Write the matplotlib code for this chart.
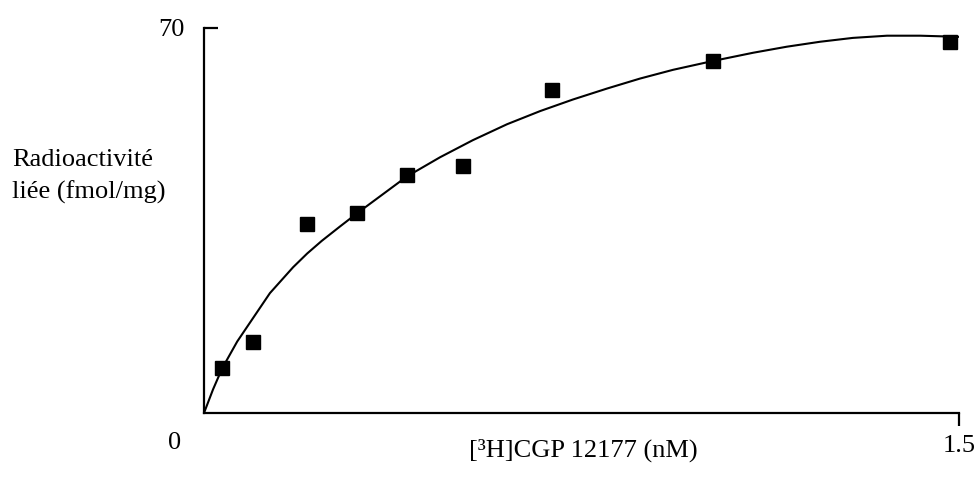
import matplotlib.pyplot as plt

plt.rcParams['font.family'] = ['Liberation Serif', 'DejaVu Serif']

# measured points
conc = [0.036, 0.097, 0.205, 0.304, 0.403, 0.515, 0.691, 1.011, 1.482]
bound = [8.1, 13.0, 34.4, 36.4, 43.2, 45.0, 58.7, 64.0, 67.4]

# fitted curve
fit_x = [0.0, 0.018, 0.036, 0.066, 0.097, 0.131, 0.177, 0.205, 0.234, 0.270,
         0.304, 0.403, 0.469, 0.534, 0.602, 0.668, 0.733, 0.801, 0.866, 0.932,
         1.011, 1.091, 1.158, 1.224, 1.289, 1.357, 1.423, 1.498]
fit_y = [0.0, 4.3, 8.1, 13.0, 17.2, 21.8, 26.5, 29.0, 31.3, 33.9,
         36.3, 43.0, 46.5, 49.6, 52.5, 54.9, 57.0, 59.0, 60.8, 62.4,
         64.0, 65.5, 66.6, 67.5, 68.2, 68.6, 68.6, 68.4]

fig = plt.figure(figsize=(9.8, 4.8), dpi=100)
ax = fig.add_axes([204/980, 1-413/480, (959-204)/980, (413-28)/480])

ax.plot(fit_x, fit_y, color='k', lw=1.5)
ax.plot(conc, bound, 's', color='k', ms=10)

ax.set_xlim(0, 1.5)
ax.set_ylim(0, 70)
for s in ['top', 'right']:
    ax.spines[s].set_visible(False)
for s in ['left', 'bottom']:
    ax.spines[s].set_linewidth(1.6)

ax.set_yticks([70])
ax.set_yticklabels(['70'], fontsize=19)
ax.tick_params(axis='y', direction='in', length=10, width=1.6, pad=14)
ax.set_xticks([1.5])
ax.set_xticklabels(['1.5'], fontsize=19)
ax.tick_params(axis='x', direction='out', length=9, width=1.6, pad=7)

fig.text(175/980, 1-443/480, '0', fontsize=19, ha='center', va='center')
fig.text(583/980, 1-450/480, '[³H]CGP 12177 (nM)', fontsize=19,
         ha='center', va='center')
fig.text(12/980, 1-160/480, 'Radioactivité', fontsize=19, ha='left', va='center')
fig.text(12/980, 1-192/480, 'liée (fmol/mg)', fontsize=19, ha='left', va='center')

fig.savefig('out.png', dpi=100)
